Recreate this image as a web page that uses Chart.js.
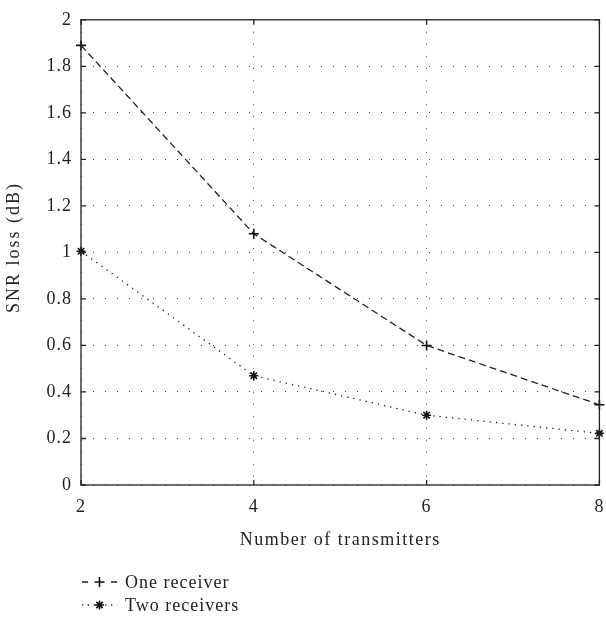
<!DOCTYPE html>
<html>
<head>
<meta charset="utf-8">
<script src="https://cdn.jsdelivr.net/npm/chart.js@4/dist/chart.umd.min.js"></script>
<style>
  html, body { margin:0; padding:0; background:#fff; }
  #wrap { width:606px; height:622px; }
</style>
</head>
<body>
<div id="wrap"><canvas id="snrChart" width="606" height="622"></canvas></div>
<script>
/* ---------- data ---------- */
const transmitters = [2, 4, 6, 8];
const oneReceiver = [1.89, 1.08, 0.60, 0.345];
const twoReceivers = [1.005, 0.47, 0.30, 0.222];
const yTicks = [0, 0.2, 0.4, 0.6, 0.8, 1, 1.2, 1.4, 1.6, 1.8, 2];
const xTitle = 'Number of transmitters';
const yTitle = 'SNR loss (dB)';

const FONT = '"Liberation Serif", "DejaVu Serif", serif';
const INK = '#222';

/* ---------- wider letter spacing, closer to the original serif ---------- */
const spacingPlugin = {
  id: 'spacing',
  beforeDraw(chart) { chart.ctx.letterSpacing = '1px'; }
};

/* ---------- box, inward tick marks, axis titles ---------- */
const framePlugin = {
  id: 'frame',
  afterDatasetsDraw(chart) {
    const { ctx, chartArea: a, scales } = chart;
    ctx.save();
    ctx.strokeStyle = INK;
    ctx.lineWidth = 1.3;
    ctx.setLineDash([]);
    ctx.strokeRect(a.left, a.top, a.right - a.left, a.bottom - a.top);
    const len = 5;
    ctx.beginPath();
    scales.x.ticks.forEach(t => {
      const x = scales.x.getPixelForValue(t.value);
      ctx.moveTo(x, a.bottom); ctx.lineTo(x, a.bottom - len);
      ctx.moveTo(x, a.top); ctx.lineTo(x, a.top + len);
    });
    scales.y.ticks.forEach(t => {
      const y = scales.y.getPixelForValue(t.value);
      ctx.moveTo(a.left, y); ctx.lineTo(a.left + len, y);
      ctx.moveTo(a.right, y); ctx.lineTo(a.right - len, y);
    });
    ctx.stroke();

    ctx.fillStyle = INK;
    ctx.font = '18px ' + FONT;
    ctx.textAlign = 'center';
    ctx.textBaseline = 'alphabetic';
    ctx.letterSpacing = '1.5px';
    ctx.fillText(xTitle, (a.left + a.right) / 2, 545);

    ctx.letterSpacing = '2px';
    ctx.translate(19, (a.top + a.bottom) / 2 - 5);
    ctx.rotate(-Math.PI / 2);
    ctx.fillText(yTitle, 0, 0);
    ctx.restore();
  }
};

/* ---------- legend drawn under the x title ---------- */
const legendPlugin = {
  id: 'bottomLegend',
  afterDraw(chart) {
    const { ctx } = chart;
    const x0 = 82, x1 = 117, textX = 125;
    const rows = [588, 611];
    ctx.save();
    chart.data.datasets.forEach((ds, i) => {
      const y = rows[i] - 6;
      ctx.strokeStyle = ds.borderColor;
      ctx.lineWidth = ds.borderWidth;
      ctx.setLineDash(ds.legendDash);
      ctx.beginPath();
      ctx.moveTo(x0, y); ctx.lineTo(x1, y);
      ctx.stroke();
      ctx.setLineDash([]);
      ctx.lineWidth = ds.pointBorderWidth;
      ctx.strokeStyle = ds.pointBorderColor;
      Chart.helpers.drawPoint(ctx, {
        pointStyle: ds.pointStyle, radius: ds.pointRadius, rotation: 0, borderWidth: ds.pointBorderWidth
      }, (x0 + x1) / 2, y);
      ctx.fillStyle = INK;
      ctx.font = '18px ' + FONT;
      ctx.letterSpacing = '1px';
      ctx.textBaseline = 'alphabetic';
      ctx.fillText(ds.label, textX, rows[i]);
    });
    ctx.restore();
  }
};

new Chart(document.getElementById('snrChart'), {
  type: 'line',
  data: {
    labels: transmitters,
    datasets: [
      {
        label: 'One receiver',
        data: transmitters.map((x, i) => ({ x, y: oneReceiver[i] })),
        borderColor: INK, borderWidth: 1.3, borderDash: [7, 4], legendDash: [6, 23],
        pointStyle: 'cross', pointRadius: 5, pointBorderWidth: 1.6,
        pointBorderColor: '#111', pointBackgroundColor: '#111',
        tension: 0, fill: false, clip: false
      },
      {
        label: 'Two receivers',
        data: transmitters.map((x, i) => ({ x, y: twoReceivers[i] })),
        borderColor: INK, borderWidth: 1.3, borderDash: [1.3, 5], legendDash: [1.3, 4.5],
        pointStyle: 'star', pointRadius: 4.5, pointBorderWidth: 1.6,
        pointBorderColor: '#111', pointBackgroundColor: '#111',
        tension: 0, fill: false, clip: false
      }
    ]
  },
  options: {
    responsive: false,
    animation: false,
    devicePixelRatio: 1,
    layout: { padding: { top: 11, right: 3, bottom: 67, left: 0 } },
    plugins: { legend: { display: false }, tooltip: { enabled: false } },
    scales: {
      x: {
        type: 'linear', min: 2, max: 8,
        afterBuildTicks: s => { s.ticks = transmitters.map(v => ({ value: v })); },
        afterFit: s => { s.height = 70; s.paddingLeft = 0; s.paddingRight = 0; },
        grid: { color: '#444', lineWidth: 1, drawTicks: false },
        border: { display: false, dash: [1, 11] },
        ticks: { color: INK, font: { family: FONT, size: 18 }, padding: 11, maxRotation: 0 },
        title: { display: false }
      },
      y: {
        type: 'linear', min: 0, max: 2,
        afterBuildTicks: s => { s.ticks = yTicks.map(v => ({ value: v })); },
        afterFit: s => { s.width = 81; },
        grid: { color: '#444', lineWidth: 1, drawTicks: false },
        border: { display: false, dash: [1, 11] },
        ticks: { color: INK, font: { family: FONT, size: 18 }, padding: 9,
                 callback: v => String(v) },
        title: { display: false }
      }
    }
  },
  plugins: [spacingPlugin, framePlugin, legendPlugin]
});
</script>
</body>
</html>
